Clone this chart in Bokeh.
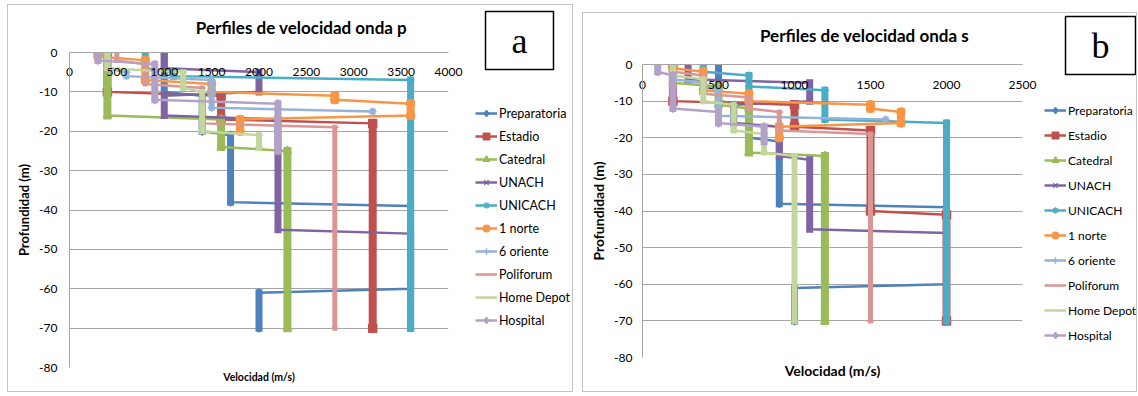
from bokeh.plotting import figure
from bokeh.models import Range1d, Legend, LegendItem, Label, FixedTicker, Title
from bokeh.layouts import row, column
from bokeh.embed import file_html
from bokeh.resources import INLINE

# ---------------- data ----------------
SERIES = ["Preparatoria", "Estadio", "Catedral", "UNACH", "UNICACH",
          "1 norte", "6 oriente", "Poliforum", "Home Depot", "Hospital"]

# P-wave layers: (velocity m/s, top depth m, bottom depth m)
p_preparatoria = [(1000, 0, -10), (1400, -11, -20), (1700, -21, -38), (3600, -39, -60), (2000, -61, -70)]
p_estadio = [(400, 0, -10), (1600, -11, -17), (3200, -18, -70)]
p_catedral = [(400, 0, -16), (1600, -17, -24), (2300, -25, -70)]
p_unach = [(1000, 0, -4), (2000, -5, -10), (1000, -11, -16), (2200, -17, -45), (3600, -46, -70)]
p_unicach = [(800, 0, -4), (1100, -5, -6), (3600, -7, -70)]
p_1norte = [(300, 0, -1), (800, -2, -7), (1500, -8, -10), (2800, -11, -12), (3600, -13, -16), (1800, -17, -20)]
p_6oriente = [(400, 0, -4), (600, -5, -6), (1500, -7, -14), (3200, -15, -15)]
p_poliforum = [(500, 0, -2), (800, -3, -8), (1400, -9, -18), (2800, -19, -70)]
p_homedepot = [(400, 0, -4), (1200, -5, -9), (1400, -10, -20), (2000, -21, -24)]
p_hospital = [(300, 0, -2), (900, -3, -12), (2200, -13, -25)]

# S-wave layers: (velocity m/s, top depth m, bottom depth m)
s_preparatoria = [(500, 0, -10), (700, -11, -20), (900, -21, -38), (2000, -39, -60), (1000, -61, -70)]
s_estadio = [(200, 0, -10), (1000, -11, -17), (1500, -18, -40), (2000, -41, -70)]
s_catedral = [(200, 0, -5), (500, -6, -11), (700, -12, -24), (1200, -25, -70)]
s_unach = [(300, 0, -4), (1100, -5, -10), (600, -11, -16), (900, -17, -25), (1100, -26, -45), (2000, -46, -70)]
s_unicach = [(400, 0, -2), (700, -3, -6), (1200, -7, -15), (2000, -16, -70)]
s_1norte = [(200, 0, -1), (400, -2, -7), (700, -8, -10), (1500, -11, -12), (1700, -13, -16), (900, -17, -20)]
s_6oriente = [(200, 0, -4), (400, -5, -6), (500, -7, -14), (1600, -15, -15)]
s_poliforum = [(200, 0, -2), (400, -3, -8), (700, -9, -12), (900, -13, -18), (1500, -19, -70)]
s_homedepot = [(200, 0, -3), (400, -4, -10), (600, -11, -18), (800, -19, -24), (1000, -25, -70)]
s_hospital = [(100, 0, -2), (200, -3, -12), (500, -13, -16), (800, -17, -21)]

P_LAYERS = [p_preparatoria, p_estadio, p_catedral, p_unach, p_unicach,
            p_1norte, p_6oriente, p_poliforum, p_homedepot, p_hospital]
S_LAYERS = [s_preparatoria, s_estadio, s_catedral, s_unach, s_unicach,
            s_1norte, s_6oriente, s_poliforum, s_homedepot, s_hospital]

X_TICKS_P = [0, 500, 1000, 1500, 2000, 2500, 3000, 3500, 4000]
X_TICKS_S = [0, 500, 1000, 1500, 2000, 2500]
Y_TICKS = [0, -10, -20, -30, -40, -50, -60, -70, -80]
Y_TICK_LABELS = ["0", "-10", "-20", "-30", "-40", "-50", "-60", "-70", "-80"]

# ---------------- style ----------------
COLORS = ["#4F81BD", "#C0504D", "#9BBB59", "#8064A2", "#4BACC6",
          "#F79646", "#95B3D7", "#D99694", "#C3D69B", "#B3A2C7"]
MARKERS = ["diamond", "square", "triangle", "x", "asterisk",
           "circle", "cross", "dash", "dash", "diamond"]
BAR_W = [7, 8, 8, 7, 7, 8, 6, 5, 6, 7]
FONT = "Lato"
GRID = "#a5a5a5"
FRAME_BORDER = "1px solid #c4c4c4"


def profile(layers):
    xs, ys = [], []
    for v, top, bot in layers:
        xs.append(v)
        ys.append(top)
        if bot != top:
            xs.append(v)
            ys.append(bot)
    return xs, ys


def bare_figure(w, h, bl=0, br=0):
    f = figure(width=w, height=h, x_range=Range1d(0, 1), y_range=Range1d(0, 1),
               x_axis_location=None, y_axis_location=None, title_location=None,
               toolbar_location=None, output_backend="svg",
               min_border_left=bl, min_border_right=br, min_border_top=0, min_border_bottom=0)
    f.grid.visible = False
    f.outline_line_color = None
    f.background_fill_color = "white"
    f.border_fill_color = "white"
    return f


def build_title(cfg):
    f = bare_figure(cfg["bl"] + cfg["fw"] + cfg["br"], cfg["th"], cfg["bl"], cfg["br"])
    tx, ty = cfg["title_pos"]
    f.add_layout(Label(x=tx, y=ty, x_units="screen", y_units="screen",
                       text=cfg["title"], text_align="center", text_baseline="middle",
                       text_font=FONT, text_font_style="bold", text_font_size="17px",
                       text_color="#000000"))
    return f


def build_main(layers_all, xmax, xticks, cfg):
    p = figure(frame_width=cfg["fw"], frame_height=cfg["fh"],
               x_range=Range1d(0, xmax), y_range=Range1d(-80, 0),
               x_axis_location="above", title_location=None, toolbar_location=None,
               output_backend="svg",
               min_border_left=cfg["bl"], min_border_right=cfg["br"],
               min_border_top=cfg["bt"], min_border_bottom=cfg["bb"])
    p.outline_line_color = None
    p.background_fill_color = "white"
    p.border_fill_color = "white"

    xt = FixedTicker(ticks=xticks)
    p.xaxis.ticker = xt
    p.xaxis.major_label_overrides = {t: str(t) for t in xticks}
    p.xaxis.major_tick_out = 0
    p.xaxis.major_tick_in = 0
    p.xaxis.minor_tick_out = 0
    p.xaxis.minor_tick_in = 0
    p.xaxis.major_label_standoff = cfg["xstand"]
    p.xaxis.axis_line_color = GRID
    p.xaxis.major_label_text_font = FONT
    p.xaxis.major_label_text_font_size = "12px"
    p.xaxis.major_label_text_color = "#000000"

    yt = FixedTicker(ticks=Y_TICKS)
    p.yaxis.ticker = yt
    p.yaxis.major_label_overrides = dict(zip(Y_TICKS, Y_TICK_LABELS))
    p.yaxis.major_tick_out = 0
    p.yaxis.major_tick_in = 0
    p.yaxis.minor_tick_out = 0
    p.yaxis.minor_tick_in = 0
    p.yaxis.major_label_standoff = cfg["ystand"]
    p.yaxis.axis_line_color = GRID
    p.yaxis.major_label_text_font = FONT
    p.yaxis.major_label_text_font_size = "12px"
    p.yaxis.major_label_text_color = "#000000"
    p.yaxis.axis_label = "Profundidad (m)"
    p.yaxis.axis_label_text_font = FONT
    p.yaxis.axis_label_text_font_style = "bold"
    p.yaxis.axis_label_text_font_size = cfg["ylab_size"]
    p.yaxis.axis_label_standoff = cfg["ylab_standoff"]
    p.yaxis.axis_label_text_color = "#000000"

    p.xgrid.visible = False
    p.ygrid.ticker = yt
    p.ygrid.grid_line_color = GRID
    p.ygrid.grid_line_width = 1

    for layers, col, mk, bw in zip(layers_all, COLORS, MARKERS, BAR_W):
        xs, ys = profile(layers)
        p.line(xs, ys, line_color=col, line_width=2.5)
        p.segment(x0=[l[0] for l in layers], y0=[l[1] for l in layers],
                  x1=[l[0] for l in layers], y1=[l[2] for l in layers],
                  line_color=col, line_width=bw, line_cap="square")
        p.scatter(xs, ys, marker=mk, size=8, fill_color=col,
                  line_color=col, line_width=1.5)

    p.add_layout(Title(text="Velocidad (m/s)", align="center", vertical_align="top",
                       standoff=cfg["xlab_standoff"], text_font=FONT,
                       text_font_style="bold", text_font_size=cfg["xlab_size"],
                       text_color="#000000"), "below")
    return p


def build_letter(cfg):
    f = bare_figure(cfg["sw"], cfg["lh"])
    lx, ly = cfg["letter_pos"]
    f.add_layout(Label(x=lx, y=ly, x_units="screen", y_units="screen",
                       text=cfg["letter"], text_align="center",
                       text_baseline="middle", text_font="Liberation Serif",
                       text_font_size="36px", text_color="#000000",
                       border_line_color="#000000", border_line_width=1.5,
                       background_fill_color="white",
                       padding=dict(left=26, right=26, top=9, bottom=9)))
    return f


def build_legend(cfg):
    f = bare_figure(cfg["sw"], cfg["gh"])
    # legend swatches (off-screen sample glyphs carrying each series' style)
    items = []
    for name, col, mk in zip(SERIES, COLORS, MARKERS):
        lr = f.line([-2, -1], [-2, -1], line_color=col, line_width=2.5)
        sr = f.scatter([-1], [-1], marker=mk, size=8, fill_color=col,
                       line_color=col, line_width=1.5)
        items.append(LegendItem(label=name, renderers=[lr, sr]))
    lg = Legend(items=items, location=cfg["legend_loc"])
    lg.border_line_color = None
    lg.background_fill_alpha = 0
    lg.padding = 0
    lg.margin = 0
    lg.spacing = cfg["legend_spacing"]
    lg.glyph_height = 16
    lg.label_height = 16
    lg.glyph_width = 22
    lg.label_standoff = 2
    lg.label_text_font = FONT
    lg.label_text_font_size = cfg["legend_size"]
    lg.label_text_color = "#000000"
    f.add_layout(lg)
    return f


cfg_a = dict(fw=379, fh=315, bl=61, br=15, bt=15, bb=24, th=32,
             xstand=-23, ystand=12, ylab_size="13px", ylab_standoff=4,
             title="Perfiles de velocidad onda p", title_pos=(232, 10),
             xlab_size="10.5px", xlab_standoff=7,
             sw=109, lh=67, gh=319, legend_loc=(12, 63), legend_spacing=7,
             legend_size="12.5px", letter="a", letter_pos=(56, 32))
cfg_b = dict(fw=380, fh=293, bl=59, br=15, bt=16, bb=34, th=35,
             xstand=-24, ystand=10, ylab_size="14px", ylab_standoff=4,
             title="Perfiles de velocidad onda s", title_pos=(222, 13),
             xlab_size="14px", xlab_standoff=8,
             sw=99, lh=67, gh=311, legend_loc=(7, 48), legend_spacing=9,
             legend_size="12px", letter="b", letter_pos=(63, 35))

main_a = column(build_title(cfg_a), build_main(P_LAYERS, 4000, X_TICKS_P, cfg_a))
main_b = column(build_title(cfg_b), build_main(S_LAYERS, 2500, X_TICKS_S, cfg_b))
side_a = column(build_letter(cfg_a), build_legend(cfg_a))
side_b = column(build_letter(cfg_b), build_legend(cfg_b))

wrap_a = row(main_a, side_a)
wrap_a.styles = {"border": FRAME_BORDER}
wrap_a.margin = (4, 0, 0, 7)
wrap_b = row(main_b, side_b)
wrap_b.styles = {"border": FRAME_BORDER}
wrap_b.margin = (12, 0, 0, 9)

layout = row(wrap_a, wrap_b)
open("out.html", "w").write(file_html(layout, INLINE))
